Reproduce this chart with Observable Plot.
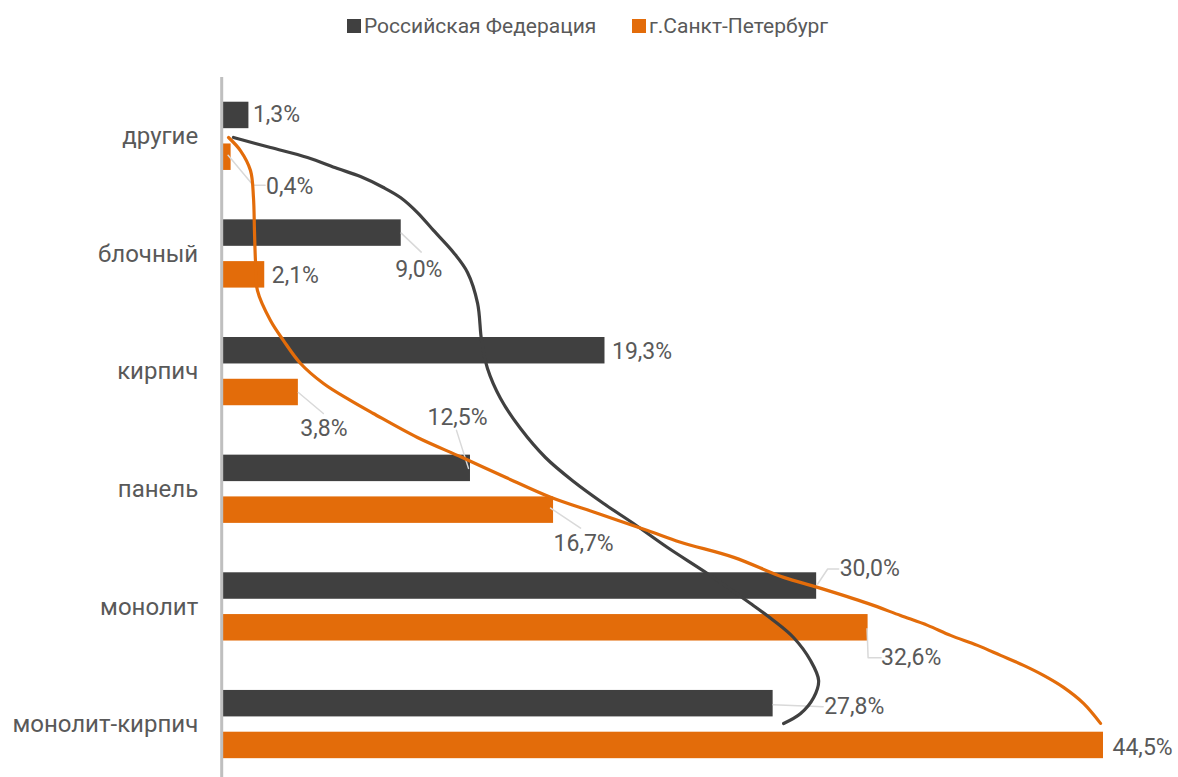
<!DOCTYPE html>
<html><head><meta charset="utf-8">
<script src="https://cdn.jsdelivr.net/npm/d3@7"></script>
<script src="https://cdn.jsdelivr.net/npm/@observablehq/plot@0.6"></script>
<style>
html,body{margin:0;padding:0;background:#fff;overflow:hidden;}
#wrap{position:relative;width:1178px;height:777px;font-family:Roboto,sans-serif;}
#chart{position:absolute;top:0;left:0;}
.item{position:absolute;top:14px;display:flex;align-items:center;font-size:21px;color:#595959;white-space:nowrap;}
.sw{display:inline-block;width:14px;height:14px;margin-right:3px;}
</style></head><body>
<div id="wrap"><div id="chart"></div></div>
<script>
// ---- data ----
const categories = ["другие", "блочный", "кирпич", "панель", "монолит", "монолит-кирпич"];
const seriesNames = ["Российская Федерация", "г.Санкт-Петербург"];
const rfValues  = [1.3, 9.0, 19.3, 12.5, 30.0, 27.8];
const spbValues = [0.4, 2.1, 3.8, 16.7, 32.6, 44.5];
// freehand curves drawn over the chart (x in %, y in category index units)
const rfCurveX  = [0.52, 2.39, 4.26, 5.78, 6.94, 8.10, 8.96, 9.82, 10.63, 11.64, 12.35, 12.86, 13.06, 13.36, 14.02, 15.03, 16.29, 17.71, 19.23, 20.74, 22.46, 24.48, 26.66, 27.82, 28.83, 29.69, 30.10, 29.85, 29.19, 28.33];
const rfCurveY  = [0.01, 0.095, 0.18, 0.274, 0.342, 0.435, 0.52, 0.648, 0.80, 0.987, 1.157, 1.42, 1.735, 1.973, 2.228, 2.484, 2.730, 2.934, 3.121, 3.291, 3.495, 3.716, 3.971, 4.115, 4.26, 4.456, 4.626, 4.77, 4.906, 4.991];
const spbCurveX = [0.27, 0.87, 1.38, 1.53, 1.58, 1.63, 1.73, 2.39, 3.05, 3.91, 5.07, 6.43, 7.59, 9.82, 12.06, 14.27, 16.55, 18.91, 21.45, 23.12, 25.81, 28.33, 30.05, 32.58, 34.24, 35.61, 36.77, 38.13, 39.30, 40.46, 41.47, 42.48, 43.49, 44.35];
const spbCurveY = [0.01, 0.121, 0.291, 0.52, 0.80, 1.055, 1.31, 1.566, 1.736, 1.931, 2.101, 2.245, 2.356, 2.56, 2.728, 2.898, 3.068, 3.204, 3.35, 3.45, 3.579, 3.749, 3.834, 3.97, 4.073, 4.157, 4.242, 4.327, 4.412, 4.497, 4.582, 4.684, 4.82, 4.99];

// ---- layout (pixels) ----
const W = 1178, H = 777;
const X0 = 222.7, X1 = 1103, XMAX = 44.5;
const Y0 = 77, Y1 = 777, YDOM = [-0.5, 5.45];
const kx = (X1 - X0) / XMAX;
const ky = (Y1 - Y0) / (YDOM[1] - YDOM[0]);
const colors = ["#404040", "#E36C0A"];
const barBand = [[-0.29, -0.065], [0.065, 0.29]];
// label anchor offsets [dx, dy] from bar end centre, and leader polylines
const labelOffsets = [
  [[4, -1], [-6, 37], [7, 1], [-43, -51], [23, -17], [51, 3]],
  [[35, 29], [7, 1], [2, 36], [0, 33], [13, 30], [9, 2]]
];
const leaders = [
  [null, [[0, 0], [20, 19]], null, [[-2, 0], [-14, -38]], [[1, -2], [11, -17], [22, -17]], [[0, 1], [50, 3]]],
  [[[-3, -2], [22, 28], [34, 28]], null, [[0, 0], [25, 21]], [[-3, -2], [27, 18]], [[-1, 1], [0, 30], [13, 30]], null]
];

const fmt = v => v.toFixed(1).replace(".", ",") + "%";
const bars = [], labels = [], leaderPts = [];
[rfValues, spbValues].forEach((vals, s) => {
  vals.forEach((v, i) => {
    const y1 = i + barBand[s][0], y2 = i + barBand[s][1], yc = (y1 + y2) / 2;
    bars.push({series: seriesNames[s], s, v, y1, y2});
    const [dx, dy] = labelOffsets[s][i];
    labels.push({x: v + dx / kx, y: yc + dy / ky, text: fmt(v)});
    const L = leaders[s][i];
    if (L) L.forEach(([px, py]) => leaderPts.push({id: s + "-" + i, x: v + px / kx, y: yc + py / ky}));
  });
});
const rfCurve = rfCurveX.map((x, j) => ({x, y: rfCurveY[j]}));
const spbCurve = spbCurveX.map((x, j) => ({x, y: spbCurveY[j]}));

const chart = Plot.plot({
  width: W, height: H,
  marginTop: Y0, marginBottom: 0, marginLeft: X0, marginRight: W - X1,
  style: {fontFamily: "Roboto, sans-serif", fontSize: "22px", color: "#595959", background: "#fff"},
  x: {domain: [0, XMAX], range: [X0, X1], axis: null},
  y: {domain: YDOM, range: [Y0, Y1], axis: null},
  marks: [
    Plot.rectX(bars, {x1: 0, x2: "v", y1: "y1", y2: "y2", fill: d => colors[d.s]}),
    Plot.ruleX([0], {stroke: "#BFBFBF", strokeWidth: 3, dx: -1.5}),
    Plot.axisY({ticks: d3.range(categories.length), tickFormat: i => categories[i], tickSize: 0, tickPadding: 25, fontSize: 24, fill: "#595959"}),
    Plot.line(leaderPts, {x: "x", y: "y", z: "id", stroke: "#D9D9D9", strokeWidth: 1.5}),
    Plot.line(rfCurve, {x: "x", y: "y", curve: "catmull-rom", stroke: colors[0], strokeWidth: 3.2}),
    Plot.line(spbCurve, {x: "x", y: "y", curve: "catmull-rom", stroke: colors[1], strokeWidth: 3.2}),
    Plot.text(labels, {x: "x", y: "y", text: "text", textAnchor: "start", fill: "#595959", fontSize: 23})
  ]
});
const wrap = document.getElementById("wrap");
document.getElementById("chart").appendChild(chart);
// legend
const legendLeft = [347, 632];
seriesNames.forEach((name, s) => {
  const it = document.createElement("div");
  it.className = "item";
  it.style.left = legendLeft[s] + "px";
  it.innerHTML = `<span class="sw" style="background:${colors[s]}"></span><span>${name}</span>`;
  wrap.appendChild(it);
});
</script></body></html>
